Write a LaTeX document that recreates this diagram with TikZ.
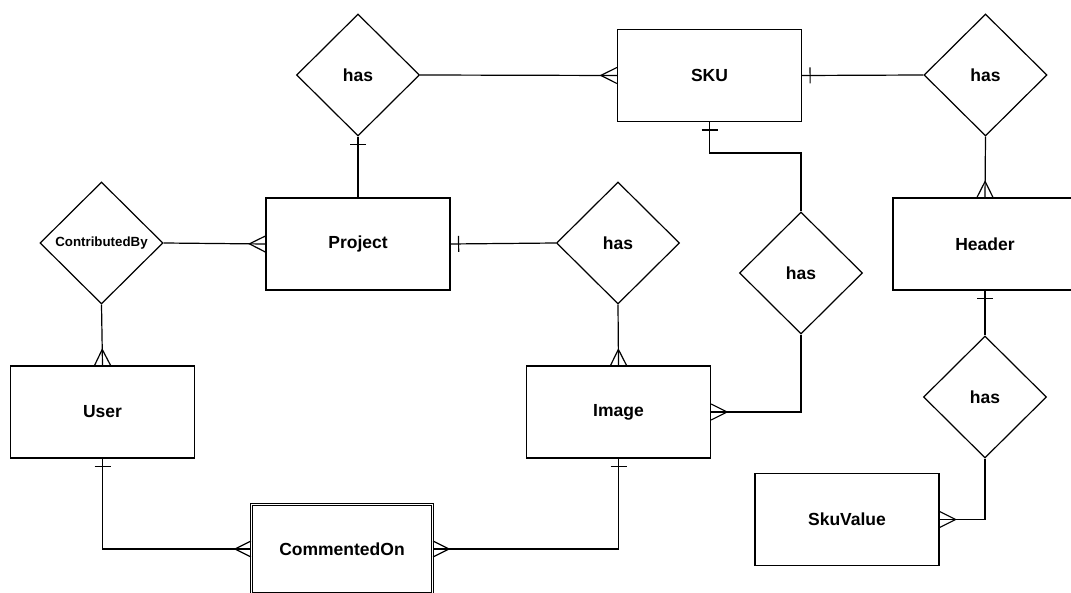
\documentclass[tikz,border=0pt]{standalone}
\usepackage{fontspec}
\setmainfont{Liberation Sans}
\usetikzlibrary{shapes.geometric,decorations.markings}
\tikzset{
  entity/.style={draw,line width=1.2pt,minimum width=184pt,minimum height=92pt,inner sep=0pt,font=\fontsize{17.5}{20}\bfseries\selectfont},
  relation/.style={draw,diamond,line width=1.2pt,minimum width=123pt,minimum height=122pt,inner sep=0pt,font=\fontsize{17.5}{20}\bfseries\selectfont},
  link/.style={line width=1.2pt},
  one start/.style={postaction={decorate,decoration={markings,mark=at position 8pt with {\draw[line width=1.2pt] (0,-8pt) -- (0,8pt);}}}},
  one end/.style={postaction={decorate,decoration={markings,mark=at position -8pt with {\draw[line width=1.2pt] (0,-8pt) -- (0,8pt);}}}},
  many end/.style={postaction={decorate,decoration={markings,mark=at position 0.9999 with {\draw[line width=1.2pt,line join=miter] (0,8pt) -- (-16pt,0) -- (0,-8pt);}}}}
}
\begin{document}
\begin{tikzpicture}[x=1pt,y=-1pt]
\useasboundingbox (0,0) rectangle (1071,593);
\clip (0,0) rectangle (1071,593);
\node[relation] (hasSku) at (358,75) {has};
\node[entity] (sku) at (709.5,75.5) {SKU};
\node[relation] (hasHeader) at (985.5,75) {has};
\node[relation,font=\fontsize{13.3}{15}\bfseries\selectfont] (contrib) at (101.5,243) {ContributedBy};
\node[entity] (project) at (358,244) {Project};
\node[relation] (hasImage) at (618,243) {has};
\node[relation] (hasSkuImage) at (801,273) {has};
\node[entity] (header) at (985,244) {Header};
\node[entity] (user) at (102.5,412) {User};
\node[entity] (image) at (618.5,412) {Image};
\node[relation] (hasValue) at (985,397) {has};
\node[entity] (skuvalue) at (847,519.5) {SkuValue};
\node[entity,double,double distance=1.6pt,line width=1pt,minimum width=181pt,minimum height=89pt] (comment) at (342,549) {CommentedOn};
\draw[link,many end] (hasSku.east) -- (sku.west);
\draw[link,one end] (project.north) -- (hasSku.south);
\draw[link,one start] (sku.east) -- (hasHeader.west);
\draw[link,many end] (hasHeader.south) -- (header.north);
\draw[link,one start] (sku.south) -- ++(0,31) -| (hasSkuImage.north);
\draw[link,many end] (hasSkuImage.south) |- (image.east);
\draw[link,many end] (contrib.east) -- (project.west);
\draw[link,many end] (contrib.south) -- (user.north);
\draw[link,one start] (project.east) -- (hasImage.west);
\draw[link,many end] (hasImage.south) -- (image.north);
\draw[link,one start,many end] (user.south) |- (comment.west);
\draw[link,one start,many end] (image.south) |- (comment.east);
\draw[link,one start] (header.south) -- (hasValue.north);
\draw[link,many end] (hasValue.south) |- (skuvalue.east);
\end{tikzpicture}
\end{document}
